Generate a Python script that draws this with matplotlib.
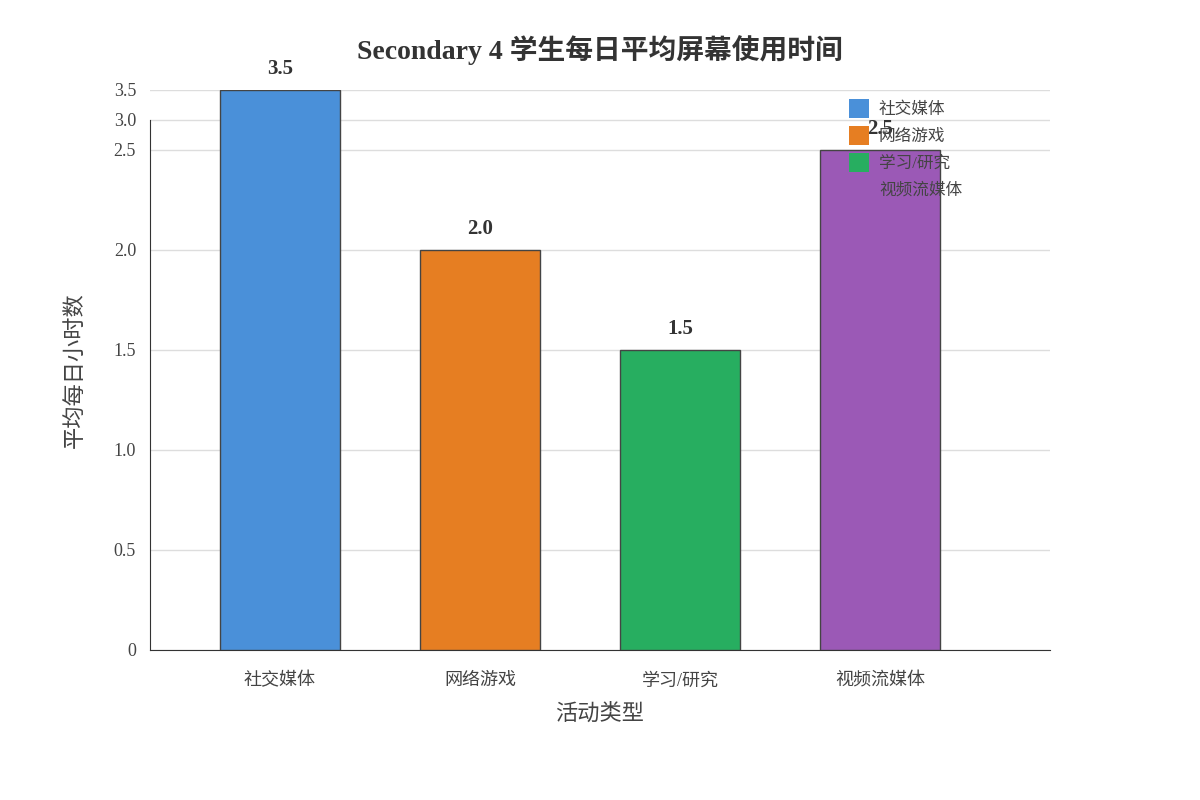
import matplotlib
matplotlib.use("Agg")
import matplotlib.pyplot as plt
import numpy as np
from matplotlib.patches import Patch

categories = ["社交媒体", "网络游戏", "学习/研究", "视频流媒体"]
hours = [3.5, 2.0, 1.5, 2.5]
colors = ["#4a90d9", "#e67e22", "#27ae60", "#9b59b6"]
yticks = [0, 0.5, 1.0, 1.5, 2.0, 2.5, 3.0, 3.5]
ytick_labels = ["0", "0.5", "1.0", "1.5", "2.0", "2.5", "3.0", "3.5"]

plt.rcParams['font.family'] = ['Liberation Serif', 'Noto Sans CJK SC']

def fwd(v):
    v = np.asarray(v, dtype=float)
    return np.where(v <= 2.5, v, 2.5 + (v - 2.5) * 0.3)

def inv(u):
    u = np.asarray(u, dtype=float)
    return np.where(u <= 2.5, u, 2.5 + (u - 2.5) / 0.3)

fig = plt.figure(figsize=(12, 8), dpi=100)
ax = fig.add_axes([0.125, 0.1875, 0.75, 0.7])
ax.set_yscale('function', functions=(fwd, inv))
x = np.arange(len(categories))
ax.bar(x, hours, width=0.6, color=colors, edgecolor="#444444", linewidth=1, zorder=3)
for xi, h in zip(x, hours):
    ax.annotate(f"{h:.1f}", (xi, h), xytext=(0, 8), textcoords="offset points",
                ha="center", va="bottom", fontsize=15, fontweight="bold",
                color="#333333", zorder=4)
ax.set_xlim(-0.65, 3.85)
ax.set_ylim(0, 3.5)
ax.set_yticks(yticks)
ax.set_yticklabels(ytick_labels)
ax.set_xticks(x)
ax.set_xticklabels(categories)
ax.tick_params(length=0, labelsize=13, colors="#444444")
ax.tick_params(axis='x', pad=16)
ax.tick_params(axis='y', pad=10)
ax.grid(axis='y', color="#dddddd", linewidth=1, zorder=0)
for s in ["top", "right"]:
    ax.spines[s].set_visible(False)
ax.spines["left"].set_bounds(0, 3.0)
ax.spines["left"].set_color("#333333")
ax.spines["bottom"].set_color("#333333")
ax.set_xlabel("活动类型", fontsize=16, color="#444444", labelpad=10)
ax.set_ylabel("平均每日小时数", fontsize=16, color="#444444", labelpad=20)
fig.text(0.5, 0.937, "Secondary 4 学生每日平均屏幕使用时间", ha="center", va="center",
         fontsize=20, fontweight="bold", color="#333333")

handles = [Patch(facecolor=c) for c in colors[:3]] + [Patch(facecolor="none", edgecolor="none")]
ax.legend(handles, categories, loc="upper left", bbox_to_anchor=(0.76, 1.01), frameon=False,
          fontsize=12, labelcolor="#444444", handlelength=1.2, handleheight=1.3,
          labelspacing=0.5, handletextpad=0.6)
fig.savefig("out.png", dpi=100, facecolor="white")
